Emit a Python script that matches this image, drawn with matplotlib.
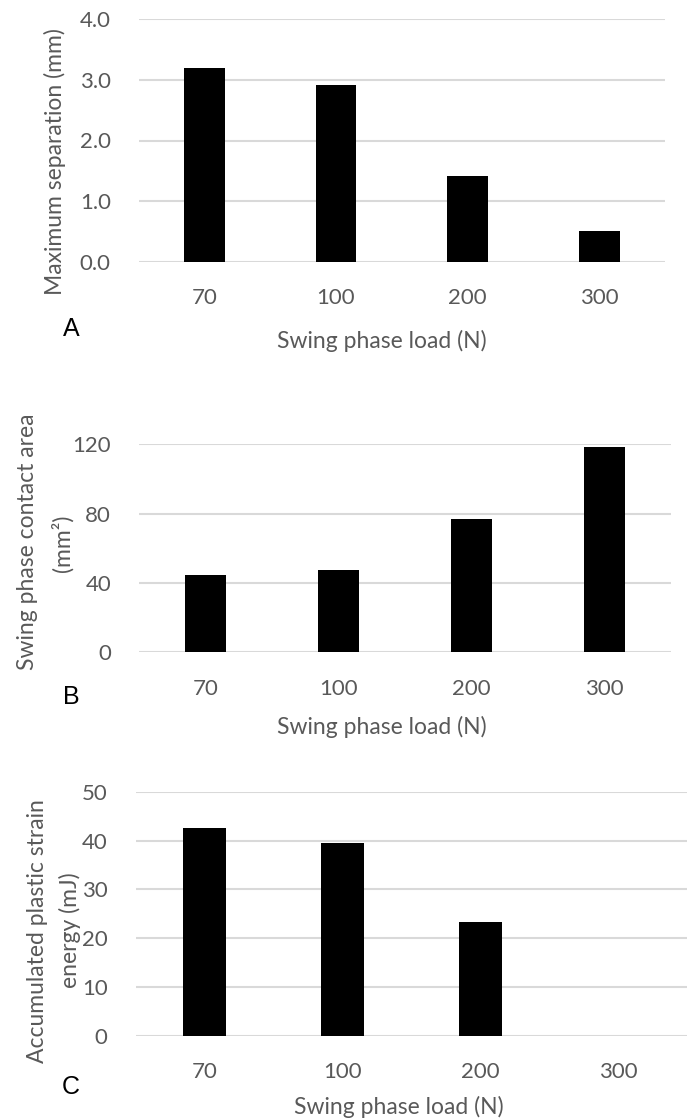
import matplotlib
matplotlib.use("Agg")
import matplotlib.pyplot as plt

loads = ["70", "100", "200", "300"]
max_separation = [3.2, 2.92, 1.41, 0.51]
contact_area = [44.8, 47.7, 76.7, 118.6]
strain_energy = [42.6, 39.5, 23.3, 0.0]

xlabel = "Swing phase load (N)"
panel_letters = ["A", "B", "C"]
yticks_list = [[0, 1, 2, 3, 4], [0, 40, 80, 120], [0, 10, 20, 30, 40, 50]]
ytick_fmt = ["{:.1f}", "{:d}", "{:d}"]

W, H = 699, 1118
fig = plt.figure(figsize=(W / 100, H / 100), dpi=100)

# pixel boxes: left, right, top, bottom
boxes = [(138.5, 665, 19.3, 261.7), (138.8, 671, 444.3, 652.3), (135.5, 687, 792, 1035.7)]
xlabel_y = [340.7, 726.7, 1106.7]
xlabel_x = [382, 382, 399]
letter_y = [329, 697, 1087]
ylabel_cfg = [[(55, 162, "Maximum separation (mm)")],
              [(28, 542, "Swing phase contact area"), (62, 543, "(mm²)")],
              [(38, 931, "Accumulated plastic strain"), (70, 930, "energy (mJ)")]]

grey = "#595959"
grid = "#d9d9d9"
font = "Lato"
data = [max_separation, contact_area, strain_energy]

for i in range(3):
    l, r, t, b = boxes[i]
    ax = fig.add_axes([l / W, 1 - b / H, (r - l) / W, (b - t) / H])
    ax.bar(range(len(loads)), data[i], width=0.31, color="black", zorder=3)
    ax.set_xlim(-0.5, len(loads) - 0.5)
    ax.set_ylim(0, yticks_list[i][-1])
    ax.set_yticks(yticks_list[i])
    ax.set_yticklabels([ytick_fmt[i].format(v) for v in yticks_list[i]],
                       fontsize=16, color=grey, family=font)
    ax.set_xticks(range(len(loads)))
    ax.set_xticklabels(loads, fontsize=16, color=grey, family=font)
    ax.tick_params(axis="both", length=0)
    ax.tick_params(axis="y", pad=20)
    ax.tick_params(axis="x", pad=19)
    ax.grid(axis="y", color=grid, linewidth=1.5, zorder=0)
    ax.set_axisbelow(True)
    for s in ax.spines.values():
        s.set_visible(False)
    fig.text(xlabel_x[i] / W, 1 - xlabel_y[i] / H, xlabel, ha="center", va="center",
             fontsize=16.5, color=grey, family=font)
    fig.text(71 / W, 1 - letter_y[i] / H, panel_letters[i], ha="center", va="center",
             fontsize=18, color="black", family="Liberation Sans")
    for (x, y, s) in ylabel_cfg[i]:
        fig.text(x / W, 1 - y / H, s, ha="center", va="center", rotation=90,
                 fontsize=16.5, color=grey, family=font)

fig.savefig("out.png", dpi=100)
